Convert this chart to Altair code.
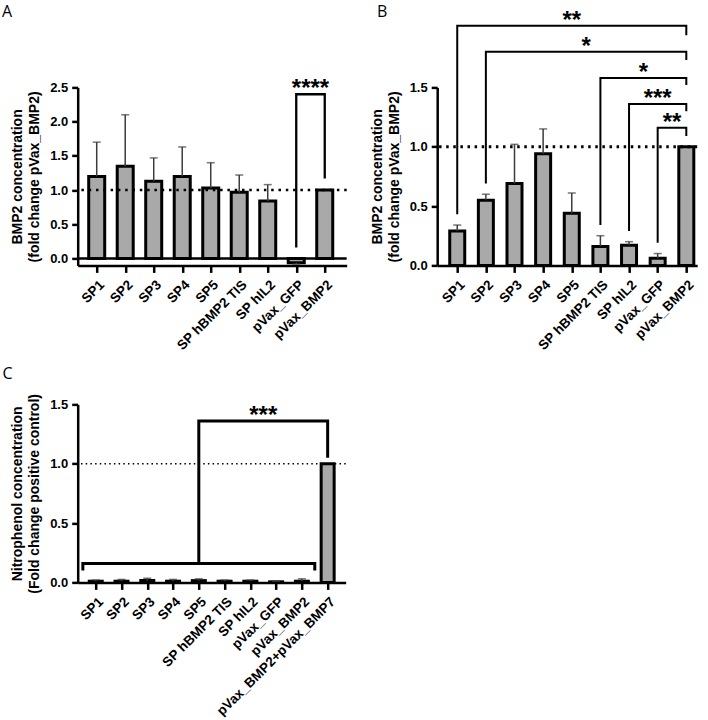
import json
import altair as alt
import pandas as pd

FONT = "Liberation Sans"
LETTER_FONT = "Open Sans"
BAR_FILL = "#a9a9a9"
ERR_COLOR = "#3c3c3c"

# ---- data -------------------------------------------------------------
names_ab = ["SP1", "SP2", "SP3", "SP4", "SP5", "SP hBMP2 TIS", "SP hIL2",
            "pVax_GFP", "pVax_BMP2"]
names_c = names_ab + ["pVax_BMP2+pVax_BMP7"]

# A: BMP2 concentration, fold change vs pVax_BMP2 (mean, SD)
a_mean = [1.20, 1.35, 1.13, 1.20, 1.03, 0.97, 0.84, -0.06, 1.00]
a_sd = [0.50, 0.75, 0.34, 0.43, 0.37, 0.25, 0.24, 0.02, 0.00]

# B: BMP2 concentration, fold change vs pVax_BMP2 (mean, SD)
b_mean = [0.29, 0.55, 0.69, 0.94, 0.44, 0.16, 0.17, 0.06, 1.00]
b_sd = [0.05, 0.05, 0.33, 0.21, 0.17, 0.09, 0.03, 0.04, 0.00]

# C: nitrophenol concentration, fold change vs positive control (mean, SD)
c_mean = [0.010, 0.010, 0.015, 0.010, 0.015, 0.010, 0.010, 0.005, 0.010, 1.00]
c_sd = [0.010, 0.015, 0.020, 0.015, 0.015, 0.010, 0.010, 0.005, 0.020, 0.00]

reference_level = [1.0]

# significance brackets: (from index, to index, top, left foot, right foot, label)
a_brackets = [(7, 8, 2.40, 0.16, 1.17, "****")]
b_brackets = [
    (0, 8, 2.02, 0.43, 1.94, "**"),
    (1, 8, 1.80, 0.69, 1.73, "*"),
    (5, 8, 1.58, 0.34, 1.52, "*"),
    (6, 8, 1.36, 0.29, 1.30, "***"),
    (7, 8, 1.16, 0.19, 1.09, "**"),
]
# C: all nine constructs grouped (-0.5 .. 8.5) vs. the positive control
c_brackets = [
    (-0.5, 8.5, 0.16, 0.10, 0.10, ""),
    (4, 9, 1.36, 0.16, 1.05, "***"),
]


def bracket_frames(brackets):
    pts, labels = [], []
    for k, (x0, x1, top, f0, f1, lab) in enumerate(brackets):
        for o, (xx, yy) in enumerate([(x0, f0), (x0, top), (x1, top), (x1, f1)]):
            pts.append({"bid": k, "ord": o, "bx": xx, "by": yy})
        if lab:
            labels.append({"lx": (x0 + x1) / 2, "ly": top, "txt": lab})
    return pd.DataFrame(pts), pd.DataFrame(labels)


def panel(names, means, sds, xdom, ydom, yticks, width, height, bar_w,
          title_lines, letter, letter_xy, brackets, bracket_w, dash,
          dot_w, zero_line=False):
    n = len(names)
    df = pd.DataFrame({"idx": list(range(n)), "mean": means, "sd": sds})
    df["tip"] = [m + s if m >= 0 else m - s for m, s in zip(means, sds)]

    xscale = alt.Scale(domain=xdom, nice=False, zero=False, padding=0)
    yscale = alt.Scale(domain=ydom, nice=False, zero=False, padding=0)

    x_axis = alt.Axis(
        values=list(range(n)),
        labelExpr=json.dumps(names) + "[datum.value]",
        labelAngle=-45, labelAlign="right", labelBaseline="top",
        labelFontSize=13.5, labelFontWeight="bold", labelPadding=5,
        tickSize=7, tickWidth=2.5, domainWidth=2.5, title=None,
        grid=False, labelOverlap=False, labelFlush=False,
    )
    y_axis = alt.Axis(
        values=yticks, format=".1f", labelFontSize=13, labelFontWeight="bold",
        labelPadding=4, tickSize=6, tickWidth=2.5, domainWidth=2.5,
        title=title_lines, titleFontSize=14, titleFontWeight="bold",
        titleLineHeight=17, titlePadding=8, grid=False, labelOverlap=False,
        labelFlush=False,
    )

    def X(field):
        return alt.X(field, type="quantitative", scale=xscale, axis=x_axis)

    def Y(field):
        return alt.Y(field, type="quantitative", scale=yscale, axis=y_axis)

    base = alt.Chart(df)
    bars = base.mark_bar(width=bar_w, fill=BAR_FILL, stroke="black",
                         strokeWidth=3).encode(
        x=X("idx"), y=Y("mean"), y2=alt.datum(0))
    err = base.transform_filter("datum.sd > 0")
    err_line = err.mark_rule(color=ERR_COLOR, strokeWidth=1.5).encode(
        x=X("idx"), y=Y("mean"), y2="tip:Q")
    err_cap = err.mark_tick(orient="horizontal", size=8, thickness=1.5,
                            color=ERR_COLOR).encode(x=X("idx"), y=Y("tip"))

    ref = alt.Chart(pd.DataFrame({"lvl": reference_level})).mark_rule(
        color="black", strokeDash=dash, strokeWidth=dot_w).encode(y=Y("lvl"))

    pts, labs = bracket_frames(brackets)
    br = alt.Chart(pts).mark_line(color="black", strokeWidth=bracket_w,
                                  strokeJoin="miter").encode(
        x=X("bx"), y=Y("by"), detail="bid:N", order="ord:Q")
    stars = alt.Chart(labs).mark_text(
        font=FONT, fontSize=24, fontWeight="bold", baseline="alphabetic",
        dy=2, color="black").encode(x=X("lx"), y=Y("ly"), text="txt:N")

    tag = alt.Chart(pd.DataFrame({"t": [letter]})).mark_text(
        font=LETTER_FONT, fontSize=16, align="left", baseline="top",
        color="black").encode(x=alt.value(letter_xy[0]),
                              y=alt.value(letter_xy[1]), text="t:N")

    # invisible rule pinned to the left edge of the plotting area
    edge = alt.Chart(pd.DataFrame({"e": [0]})).mark_rule(
        color="black", strokeWidth=1, strokeOpacity=0).encode(
        x=alt.value(0), y=alt.value(0), y2=alt.value(height))

    layers = [bars]
    if zero_line:
        layers.append(alt.Chart(pd.DataFrame({"z": [0.0]})).mark_rule(
            color="black", strokeWidth=2.5).encode(
            x=alt.value(0), x2=alt.value(width), y=Y("z")))
    layers += [err_line, err_cap, ref, br, stars, tag, edge]
    return alt.layer(*layers).properties(width=width, height=height)


panel_a = panel(
    names_ab, a_mean, a_sd, xdom=[-0.667, 8.77], ydom=[-0.1, 2.5],
    yticks=[0, 0.5, 1.0, 1.5, 2.0, 2.5], width=269, height=178, bar_w=16,
    title_lines=["BMP2 concentration", "(fold change pVax_BMP2)"],
    letter="A", letter_xy=(-75.8, -83.1), brackets=a_brackets, bracket_w=2.3,
    dash=[2.5, 4.8], dot_w=2.5, zero_line=True,
)
panel_b = panel(
    names_ab, b_mean, b_sd, xdom=[-0.70, 8.38], ydom=[0, 1.5],
    yticks=[0, 0.5, 1.0, 1.5], width=260, height=178, bar_w=15,
    title_lines=["BMP2 concentration", "(fold change pVax_BMP2)"],
    letter="B", letter_xy=(-60.3, -83.1), brackets=b_brackets, bracket_w=2.0,
    dash=[2.5, 4.6], dot_w=2.8,
)
panel_c = panel(
    names_c, c_mean, c_sd, xdom=[-0.70, 9.70], ydom=[0, 1.5],
    yticks=[0, 0.5, 1.0, 1.5], width=268, height=178, bar_w=13,
    title_lines=["Nitrophenol concentration", "(Fold change positive control)"],
    letter="C", letter_xy=(-75.3, -38.1), brackets=c_brackets, bracket_w=3.0,
    dash=[1.5, 3.2], dot_w=1.5,
)

chart = alt.concat(
    panel_a, panel_b, panel_c, columns=2,
    spacing={"row": 139, "column": 90.5}, bounds="flush",
).properties(
    padding={"left": 1.7, "top": 3.4, "right": 0, "bottom": 0}
).configure_view(stroke=None).configure_axis(
    labelFont=FONT, titleFont=FONT, domainColor="black", tickColor="black",
    labelColor="black", titleColor="black",
)

chart.save("out.html", embed_options={"renderer": "svg", "actions": False})
